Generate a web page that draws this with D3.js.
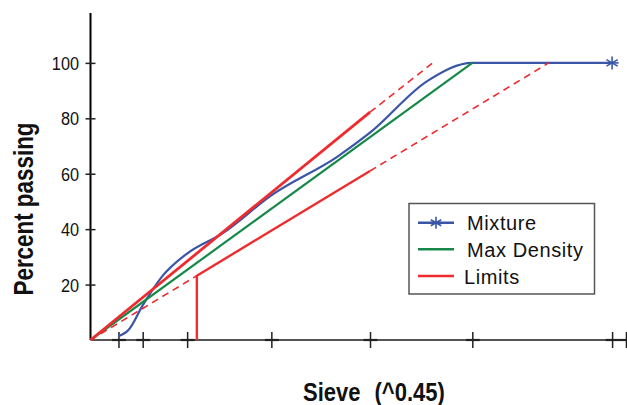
<!DOCTYPE html>
<html><head><meta charset="utf-8">
<script src="https://cdn.jsdelivr.net/npm/d3@7"></script>
<style>
html,body{margin:0;padding:0;background:#fff;}
svg{display:block;}
</style></head>
<body>
<svg id="chart" width="627" height="405"></svg>
<script>
// ---- data ----
const sieveTicks = [0.075, 0.3, 1.18, 4.75, 12.5, 25, 50, 53];
const yTicks = [20, 40, 60, 80, 100];
const mixSizes = [0.075, 0.15, 0.3, 0.6, 1.18, 2.36, 4.75, 9.5, 12.5, 19, 25, 37.5, 50];
const mixPassing = [1.4, 3.7, 12.5, 22.8, 31.2, 38.5, 52.2, 66.2, 74.8, 93.6, 100, 100, 100];
const maxDenSizes = [0, 25];
const maxDenPassing = [0, 100];
const upperSolidSizes = [0, 12.5];
const upperSolidPassing = [0, 82.2];
const upperDashSizes = [12.5, 19.6];
const upperDashPassing = [82.2, 100];
const lowerDash1Sizes = [0, 1.46];
const lowerDash1Passing = [0, 23.2];
const lowerStepSizes = [1.46, 1.46, 12.5];
const lowerStepPassing = [0, 23.2, 61];
const lowerDash2Sizes = [12.5, 37.5];
const lowerDash2Passing = [61, 100];
const legendLabels = ["Mixture", "Max Density", "Limits"];
const POW = 0.45;

// ---- chart ----
const svg = d3.select("#chart");
const FONT = "'Liberation Sans',Arial,sans-serif";
const BLUE = "#3a55a6", GREEN = "#16894a", RED = "#ee2b2f";
const x = d3.scaleLinear().domain([0, 6.0]).range([90.5, 90.5 + 6.0 * 89.7]);
const y = d3.scaleLinear().domain([0, 118]).range([340, 13]);
const tx = s => Math.pow(s, POW);
const pts = (sz, pv) => sz.map((s, i) => [x(tx(s)), y(pv[i])]);
const line = d3.line();
const smooth = d3.line().curve(d3.curveMonotoneX);

// y axis
const yAxis = d3.axisLeft(y).tickValues(yTicks).tickSize(5).tickPadding(8);
const gy = svg.append("g").attr("transform", "translate(90.5,0)").call(yAxis);
gy.select(".domain").attr("d", `M0,${y(118)}V${y(0)}`).attr("stroke", "#000").attr("stroke-width", 2);
gy.selectAll(".tick line").attr("x1", -5).attr("x2", 5).attr("stroke", "#222").attr("stroke-width", 1.5);
gy.selectAll(".tick text").attr("font-family", FONT)
  .attr("font-size", 18.5).attr("fill", "#111").attr("x", 0).attr("dy", "0.36em")
  .attr("transform", "translate(-11.5,0) scale(0.88,1)");

// x axis
const xAxis = d3.axisBottom(x).tickValues(sieveTicks.map(tx)).tickSize(8).tickFormat("");
const gx = svg.append("g").attr("transform", "translate(0,340)").call(xAxis);
gx.select(".domain").attr("d", `M${x(0)},0H640`).attr("stroke", "#555").attr("stroke-width", 2);
gx.selectAll(".tick line").attr("y1", -8).attr("y2", 8).attr("stroke", "#222").attr("stroke-width", 1.5);
gx.selectAll(".tick").append("line").attr("x1", -7).attr("x2", 7).attr("y1", 0).attr("y2", 0)
  .attr("stroke", "#222").attr("stroke-width", 2.2);

// axis titles
svg.append("text").attr("transform", "translate(33,209) rotate(-90) scale(0.83,1)").attr("text-anchor", "middle")
  .attr("font-family", FONT).attr("font-weight", "bold")
  .attr("font-size", 27).attr("fill", "#111").text("Percent passing");
const xt = svg.append("text").attr("transform", "translate(303,401) scale(0.88,1)")
  .attr("font-family", FONT).attr("font-weight", "bold")
  .attr("font-size", 25).attr("fill", "#111");
xt.append("tspan").text("Sieve");
xt.append("tspan").attr("dx", 16).text("(^0.45)");

// series
const g = svg.append("g").attr("fill", "none").attr("stroke-linejoin", "round");
g.append("path").attr("d", smooth(pts(mixSizes, mixPassing))).attr("stroke", BLUE).attr("stroke-width", 2.2);
g.append("path").attr("d", line(pts(maxDenSizes, maxDenPassing))).attr("stroke", GREEN).attr("stroke-width", 2.2);
const dash = "7,5";
g.append("path").attr("d", line(pts(upperSolidSizes, upperSolidPassing))).attr("stroke", RED).attr("stroke-width", 2.8);
g.append("path").attr("d", line(pts(upperDashSizes, upperDashPassing))).attr("stroke", RED).attr("stroke-width", 1.6).attr("stroke-dasharray", dash);
g.append("path").attr("d", line(pts(lowerDash1Sizes, lowerDash1Passing))).attr("stroke", RED).attr("stroke-width", 1.6).attr("stroke-dasharray", dash);
g.append("path").attr("d", line(pts(lowerStepSizes, lowerStepPassing))).attr("stroke", RED).attr("stroke-width", 2.4);
g.append("path").attr("d", line(pts(lowerDash2Sizes, lowerDash2Passing))).attr("stroke", RED).attr("stroke-width", 1.6).attr("stroke-dasharray", dash);

// star marker
function star(sel, cx, cy, r) {
  const gs = sel.append("g").attr("stroke", BLUE).attr("stroke-width", 1.6);
  [0, 60, 120].forEach(a => {
    const rad = (a + 90) * Math.PI / 180;
    gs.append("line").attr("x1", cx - r * Math.cos(rad)).attr("y1", cy - r * Math.sin(rad))
      .attr("x2", cx + r * Math.cos(rad)).attr("y2", cy + r * Math.sin(rad));
  });
  gs.append("line").attr("x1", cx - r).attr("x2", cx + r).attr("y1", cy).attr("y2", cy);
}
const last = mixSizes.length - 1;
star(svg, x(tx(mixSizes[last])), y(mixPassing[last]), 6.5);

// legend
const lg = svg.append("g");
lg.append("rect").attr("x", 409).attr("y", 203.5).attr("width", 185.5).attr("height", 90.5)
  .attr("fill", "#fff").attr("stroke", "#555").attr("stroke-width", 1.5);
const lcol = [BLUE, GREEN, RED];
const ly = [222.7, 249.3, 276];
legendLabels.forEach((lab, i) => {
  lg.append("line").attr("x1", 418).attr("x2", 454).attr("y1", ly[i]).attr("y2", ly[i])
    .attr("stroke", lcol[i]).attr("stroke-width", 2.4);
  lg.append("text").attr("x", i === 2 ? 464 : 467).attr("y", ly[i] + 7.5)
    .attr("font-family", FONT).attr("font-size", 20)
    .attr("letter-spacing", 0.6).attr("fill", "#111").text(lab);
});
star(lg, 436, ly[0], 6);
</script>
</body></html>
